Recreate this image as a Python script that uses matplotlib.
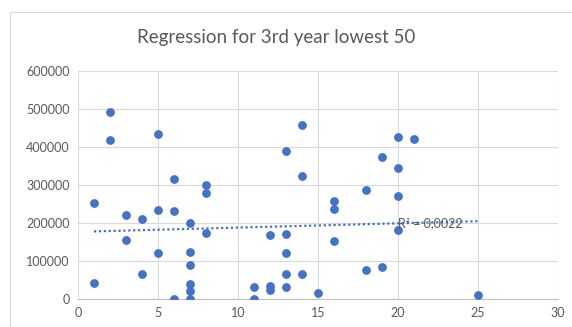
import numpy as np
import matplotlib
matplotlib.use("Agg")
import matplotlib.pyplot as plt
from matplotlib.patches import Rectangle

plt.rcParams['font.family'] = ['Lato', 'DejaVu Sans']

# Years of service (x) and salary (y) for the lowest 50
years = [1, 1, 2, 2, 3, 3, 4, 4, 5, 5, 5, 6, 6, 6,
         7, 7, 7, 7, 7, 7, 8, 8, 8,
         11, 11, 12, 12, 12, 13, 13, 13, 13, 13, 14, 14, 14, 15,
         16, 16, 16, 18, 18, 19, 19,
         20, 20, 20, 20, 21, 25]
salary = [253000, 42000, 491000, 419000, 221000, 155000, 210000, 65000, 434000, 235000, 120000, 316000, 231000, 1000,
          200000, 124000, 89000, 39000, 21000, 500, 300000, 280000, 175000,
          31000, 1000, 168000, 33000, 23000, 389000, 171000, 122000, 65000, 31000, 458000, 325000, 67000, 16000,
          259000, 238000, 152000, 287000, 77000, 374000, 85000,
          427000, 346000, 270000, 182000, 422000, 10000]
r2_label = "R² = 0,0022"

x = np.array(years, dtype=float)
y = np.array(salary, dtype=float)

W, H = 572, 327
fig = plt.figure(figsize=(W / 100, H / 100), dpi=100)
ax = fig.add_axes([78 / W, 1 - 299 / H, (558 - 78) / W, (299 - 71) / H])

# chart frame
fig.patches.append(Rectangle((10 / W, -0.1), 1.2, 1 - 12 / H + 0.1,
                             transform=fig.transFigure, fill=False,
                             edgecolor='#d9d9d9', linewidth=0.8))

blue = '#4472C4'
grey = '#595959'

ax.scatter(x, y, s=40, color=blue, zorder=3, linewidths=0)

# linear trendline
slope, intercept = np.polyfit(x, y, 1)
xt = np.array([x.min(), x.max()])
ax.plot(xt, slope * xt + intercept, color=blue, linestyle=(0, (1, 1.2)),
        linewidth=1.6, zorder=2)
ax.text(20, slope * 20 + intercept, r2_label, color=grey, fontsize=9,
        ha='left', va='center', zorder=4)

ax.set_xlim(0, 30)
ax.set_ylim(0, 600000)
ax.set_xticks(np.arange(0, 31, 5))
ax.set_yticks(np.arange(0, 600001, 100000))
ax.set_yticklabels([f"{v:d}" for v in range(0, 600001, 100000)])
ax.grid(True, color='#d9d9d9', linewidth=0.8, zorder=0)
ax.set_axisbelow(True)
for s in ['top', 'right', 'left']:
    ax.spines[s].set_visible(False)
ax.spines['bottom'].set_color('#bfbfbf')
ax.spines['bottom'].set_linewidth(0.8)
ax.tick_params(length=0, labelsize=9, colors=grey, pad=6)

fig.text(276 / W, 1 - 37 / H, "Regression for 3rd year lowest 50",
         ha='center', va='center', fontsize=13.5, color=grey)

fig.savefig("out.png", dpi=100)
